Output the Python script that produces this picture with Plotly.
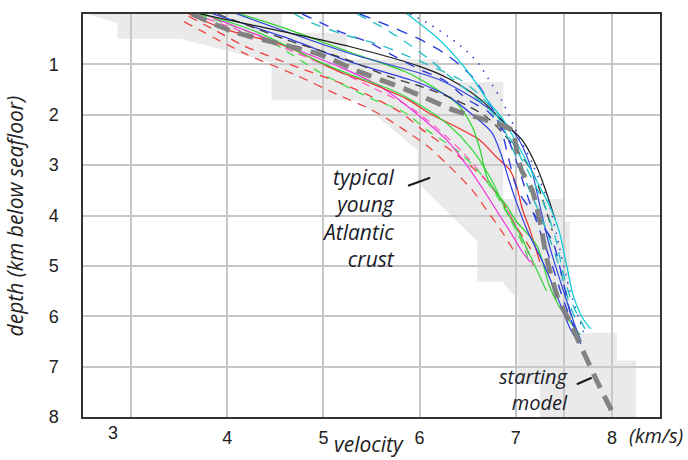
import plotly.graph_objects as go

# ---- velocity-depth envelope of typical young Atlantic crust ----
envelope_v = [2.53, 2.86, 2.86, 3.51, 4.46, 4.46, 5.36, 5.98, 5.98, 6.60, 6.60, 6.86, 6.98, 7.02,
              7.02, 7.25, 7.25, 8.25, 8.25, 8.05, 8.05, 7.56, 7.56, 7.51, 7.51, 6.87, 6.87, 6.29,
              6.19, 5.24, 5.24, 4.57, 4.57, 2.53]
envelope_d = [0.00, 0.18, 0.49, 0.49, 0.96, 1.71, 1.71, 2.71, 3.35, 4.51, 5.31, 5.31, 5.59, 5.59,
              7.35, 7.35, 8.00, 8.00, 6.88, 6.88, 6.33, 6.33, 4.12, 4.12, 3.67, 3.67, 1.35, 1.35,
              0.90, 0.90, 0.37, 0.37, 0.00, 0.00]

# ---- starting model ----
start_v = [3.63, 4.06, 4.58, 4.96, 5.35, 5.85, 6.37, 6.65, 6.96, 7.01, 7.06, 7.17, 7.25, 7.33,
           7.44, 7.56, 7.70, 7.84, 8.03]
start_d = [0.00, 0.35, 0.61, 0.80, 1.13, 1.49, 1.92, 2.08, 2.31, 2.71, 3.10, 3.49, 4.10, 4.92,
           5.65, 6.10, 6.69, 7.27, 8.00]

# ---- inverted velocity profiles ----
cyan_v = [5.87, 6.20, 6.42, 6.58, 6.72, 6.87, 7.05, 7.20, 7.35, 7.45, 7.53, 7.60, 7.70, 7.78]
cyan_d = [0.00, 0.50, 0.95, 1.35, 1.75, 2.10, 2.70, 3.25, 3.80, 4.30, 5.00, 5.60, 6.05, 6.25]

teal_v = [5.35, 5.60, 5.85, 6.10, 6.32, 6.55, 6.78, 6.98, 7.15, 7.30, 7.42, 7.50, 7.60, 7.72]
teal_d = [0.00, 0.25, 0.55, 0.90, 1.25, 1.60, 2.00, 2.60, 3.20, 3.80, 4.50, 5.20, 5.80, 6.25]

teal2_v = [4.70, 4.86, 5.20, 5.60, 5.92, 6.20, 6.42, 6.62, 6.80, 6.95, 7.10, 7.30, 7.45, 7.55, 7.65]
teal2_d = [0.00, 0.16, 0.40, 0.62, 0.87, 1.10, 1.30, 1.60, 2.00, 2.60, 3.30, 4.20, 5.00, 5.70, 6.20]

bluedash_v = [5.38, 5.61, 6.00, 6.29, 6.55, 6.72, 6.85, 6.93, 7.02, 7.20, 7.38, 7.48, 7.55, 7.62]
bluedash_d = [0.00, 0.18, 0.50, 0.82, 1.25, 1.75, 2.30, 2.90, 3.50, 4.00, 4.50, 5.20, 5.80, 6.30]

bluedash2_v = [4.78, 4.96, 5.17, 5.48, 5.76, 6.00, 6.26, 6.50, 6.72, 6.90, 7.02, 7.12, 7.25, 7.38,
               7.50, 7.60]
bluedash2_d = [0.00, 0.16, 0.35, 0.57, 0.86, 1.10, 1.32, 1.70, 1.95, 2.40, 3.00, 3.60, 4.30, 5.00,
               5.70, 6.20]

bluedot_v = [5.90, 6.10, 6.30, 6.48, 6.62, 6.72, 6.85, 7.00, 7.18, 7.35, 7.45, 7.55, 7.65, 7.72]
bluedot_d = [0.00, 0.20, 0.45, 0.72, 1.00, 1.30, 1.70, 2.30, 3.00, 3.80, 4.60, 5.40, 6.00, 6.40]

black_v = [3.72, 4.58, 5.28, 6.00, 6.31, 6.63, 6.87, 7.07, 7.22, 7.32, 7.41]
black_d = [0.00, 0.35, 0.65, 1.04, 1.29, 1.69, 2.14, 2.51, 3.04, 3.55, 4.08]

darkdash_v = [3.90, 4.60, 5.24, 5.69, 6.03, 6.37, 6.70, 6.97, 7.18, 7.30, 7.38]
darkdash_d = [0.00, 0.50, 0.90, 1.25, 1.45, 1.70, 2.05, 2.60, 3.16, 3.80, 4.30]

blueA_v = [3.85, 4.58, 5.28, 5.97, 6.31, 6.55, 6.75, 6.85, 6.93, 7.00, 7.12, 7.30, 7.45, 7.58, 7.68]
blueA_d = [0.00, 0.45, 0.95, 1.35, 1.65, 2.00, 2.35, 2.80, 3.30, 3.70, 4.30, 5.00, 5.70, 6.30, 6.55]

blueB_v = [4.10, 5.30, 6.20, 6.70, 7.00, 7.15, 7.25, 7.35, 7.48, 7.60, 7.68]
blueB_d = [0.00, 0.80, 1.30, 1.85, 2.40, 3.00, 3.80, 4.60, 5.40, 6.10, 6.50]

greenA_v = [4.13, 4.58, 5.28, 5.87, 6.14, 6.39, 6.55, 6.63, 6.70, 6.80, 6.91, 7.00, 7.22, 7.35,
            7.45, 7.60, 7.67]
greenA_d = [0.00, 0.27, 0.76, 1.16, 1.45, 1.78, 2.25, 2.70, 3.24, 3.55, 3.82, 4.10, 4.60, 5.40,
            5.80, 6.20, 6.37]

greenB_v = [3.75, 4.30, 4.96, 5.28, 5.70, 6.00, 6.30, 6.55, 6.75, 6.90, 7.05, 7.20, 7.32]
greenB_d = [0.00, 0.35, 0.95, 1.20, 1.50, 1.80, 2.20, 2.70, 3.30, 3.90, 4.40, 5.00, 5.50]

greendash_v = [3.70, 4.40, 5.00, 5.51, 5.83, 6.11, 6.39, 6.63, 6.80, 6.95, 7.08, 7.15]
greendash_d = [0.00, 0.50, 1.20, 1.69, 1.94, 2.35, 2.71, 3.16, 3.60, 4.10, 4.60, 5.00]

red_v = [3.60, 3.99, 4.58, 5.17, 5.51, 5.87, 6.11, 6.39, 6.63, 6.80, 6.94, 7.01, 7.07, 7.15, 7.22, 7.25]
red_d = [0.00, 0.31, 0.62, 1.15, 1.39, 1.69, 1.98, 2.25, 2.51, 2.84, 3.10, 3.43, 3.88, 4.30, 4.73, 4.92]

reddash_v = [3.60, 3.90, 4.16, 4.52, 4.79, 5.07, 5.40, 5.80, 6.03, 6.39, 6.66, 6.83, 7.00, 7.10, 7.20]
reddash_d = [0.05, 0.35, 0.62, 0.90, 1.10, 1.29, 1.55, 1.95, 2.30, 2.80, 3.24, 3.63, 4.20, 4.50, 4.80]

reddash2_v = [3.55, 4.20, 4.70, 5.17, 5.50, 5.80, 6.10, 6.35, 6.55, 6.70, 6.85, 6.98]
reddash2_d = [0.15, 0.80, 1.20, 1.62, 1.90, 2.25, 2.65, 3.10, 3.50, 3.90, 4.30, 4.70]

magenta_v = [3.75, 4.50, 5.17, 5.60, 5.95, 6.28, 6.49, 6.65, 6.80, 6.97, 7.07, 7.15]
magenta_d = [0.00, 0.55, 1.05, 1.45, 1.95, 2.50, 3.00, 3.45, 3.90, 4.41, 4.73, 4.92]

pink_v = [3.65, 4.30, 5.00, 5.50, 5.90, 6.20, 6.45, 6.65, 6.85, 7.00, 7.10, 7.18]
pink_d = [0.00, 0.45, 1.00, 1.45, 1.85, 2.30, 2.75, 3.20, 3.70, 4.20, 4.60, 5.00]

# tick labels
xtick_vals = [3, 4, 5, 6, 7, 7.5, 8]
xtick_text = ["", "4", "5", "6", "7", "", "8"]
ytick_vals = [1, 2, 3, 4, 5, 6, 7, 8]
ytick_text = ["1", "2", "3", "4", "5", "6", "7", "8"]

# (v, d, colour, dash, width) for each profile
profiles = [
    (reddash2_v, reddash2_d, "rgb(240,70,70)", "9px,7px", 1.3),
    (reddash_v, reddash_d, "rgb(240,60,60)", "9px,7px", 1.3),
    (pink_v, pink_d, "rgb(255,90,190)", "8px,6px", 1.3),
    (greendash_v, greendash_d, "rgb(70,220,70)", "9px,7px", 1.3),
    (magenta_v, magenta_d, "rgb(240,50,220)", "solid", 1.2),
    (red_v, red_d, "rgb(235,45,45)", "solid", 1.2),
    (greenB_v, greenB_d, "rgb(50,215,60)", "solid", 1.2),
    (greenA_v, greenA_d, "rgb(40,210,40)", "solid", 1.2),
    (blueA_v, blueA_d, "rgb(45,60,230)", "solid", 1.2),
    (blueB_v, blueB_d, "rgb(50,70,220)", "solid", 1.2),
    (darkdash_v, darkdash_d, "rgb(60,60,60)", "9px,6px", 1.3),
    (black_v, black_d, "rgb(25,25,25)", "solid", 1.2),
    (bluedash2_v, bluedash2_d, "rgb(45,60,220)", "10px,9px", 1.4),
    (teal2_v, teal2_d, "rgb(40,190,195)", "10px,9px", 1.4),
    (bluedash_v, bluedash_d, "rgb(40,60,220)", "11px,9px", 1.4),
    (teal_v, teal_d, "rgb(35,195,200)", "10px,8px", 1.4),
    (bluedot_v, bluedot_d, "rgb(40,60,200)", "1.5px,7px", 1.5),
    (cyan_v, cyan_d, "rgb(20,205,215)", "solid", 1.3),
]

fig = go.Figure()

fig.add_trace(go.Scatter(
    x=envelope_v, y=envelope_d, mode="lines", fill="toself",
    fillcolor="rgba(205,205,205,0.42)", line=dict(width=0),
    hoverinfo="skip", showlegend=False,
))

for v, d, colour, dash, width in profiles:
    fig.add_trace(go.Scatter(
        x=v, y=d, mode="lines",
        line=dict(color=colour, width=width, dash=dash, shape="spline", smoothing=0.8),
        hoverinfo="skip", showlegend=False,
    ))

fig.add_trace(go.Scatter(
    x=start_v, y=start_d, mode="lines",
    line=dict(color="rgba(125,125,125,0.95)", width=5, dash="16px,9px", shape="spline", smoothing=0.6),
    hoverinfo="skip", showlegend=False,
))

label_font = dict(family="Open Sans", size=21, color="#1c1c2a")
tick_font = dict(family="Liberation Sans", size=18, color="#222222")

fig.add_annotation(xref="x", yref="y", x=5.77, y=4.04, xanchor="right", yanchor="middle",
                   align="right", showarrow=False, font=label_font,
                   text="<i>typical<br>young<br>Atlantic<br>crust</i>")
fig.add_annotation(xref="x", yref="y", x=7.56, y=7.46, xanchor="right", yanchor="middle",
                   align="right", showarrow=False, font=dict(label_font, size=20),
                   text="<i>starting<br>model</i>")

# pointer strokes
fig.add_shape(type="line", xref="x", yref="y", x0=5.88, y0=3.41, x1=6.11, y1=3.25,
              line=dict(color="#1c1c1c", width=2))
fig.add_shape(type="line", xref="x", yref="y", x0=7.635, y0=7.35, x1=7.79, y1=7.22,
              line=dict(color="#1c1c1c", width=2))

# tick label "3" and unit
fig.add_annotation(xref="x", yref="paper", x=2.81, y=0, yanchor="top", yshift=-4,
                   text="3", showarrow=False, font=tick_font)
fig.add_annotation(xref="x", yref="paper", x=8.16, y=0, xanchor="left", yanchor="top", yshift=-3,
                   text="<i>(km/s)</i>", showarrow=False,
                   font=dict(family="Open Sans", size=20, color="#222222"))

# axis titles
fig.add_annotation(xref="paper", yref="paper", x=0.4957, y=0, yanchor="middle", yshift=-27,
                   text="<i>velocity</i>", showarrow=False,
                   font=dict(family="Open Sans", size=21, color="#222222"))
fig.add_annotation(xref="paper", yref="paper", x=-0.118, y=0.5, xanchor="center", yanchor="middle",
                   textangle=-90, text="<i>depth (km below seafloor)</i>", showarrow=False,
                   font=dict(family="Open Sans", size=21, color="#222222"))

fig.update_layout(
    width=688, height=460, autosize=False,
    margin=dict(l=83, r=28, t=12, b=40),
    paper_bgcolor="white", plot_bgcolor="white",
    showlegend=False,
)
fig.update_xaxes(
    range=[2.5, 8.5], tickvals=xtick_vals, ticktext=xtick_text,
    showgrid=True, gridcolor="#c6c6c6", gridwidth=1.5, zeroline=False,
    showline=True, linecolor="#333333", linewidth=1.5, mirror=True,
    ticks="outside", ticklen=4, tickcolor="rgba(0,0,0,0)", tickfont=tick_font,
)
fig.update_yaxes(
    range=[8, 0], tickvals=ytick_vals, ticktext=ytick_text,
    showgrid=True, gridcolor="#c6c6c6", gridwidth=1.5, zeroline=False,
    showline=True, linecolor="#333333", linewidth=1.5, mirror=True,
    ticks="outside", ticklen=19, tickcolor="rgba(0,0,0,0)", tickfont=tick_font,
)

fig.write_html("out.html")
